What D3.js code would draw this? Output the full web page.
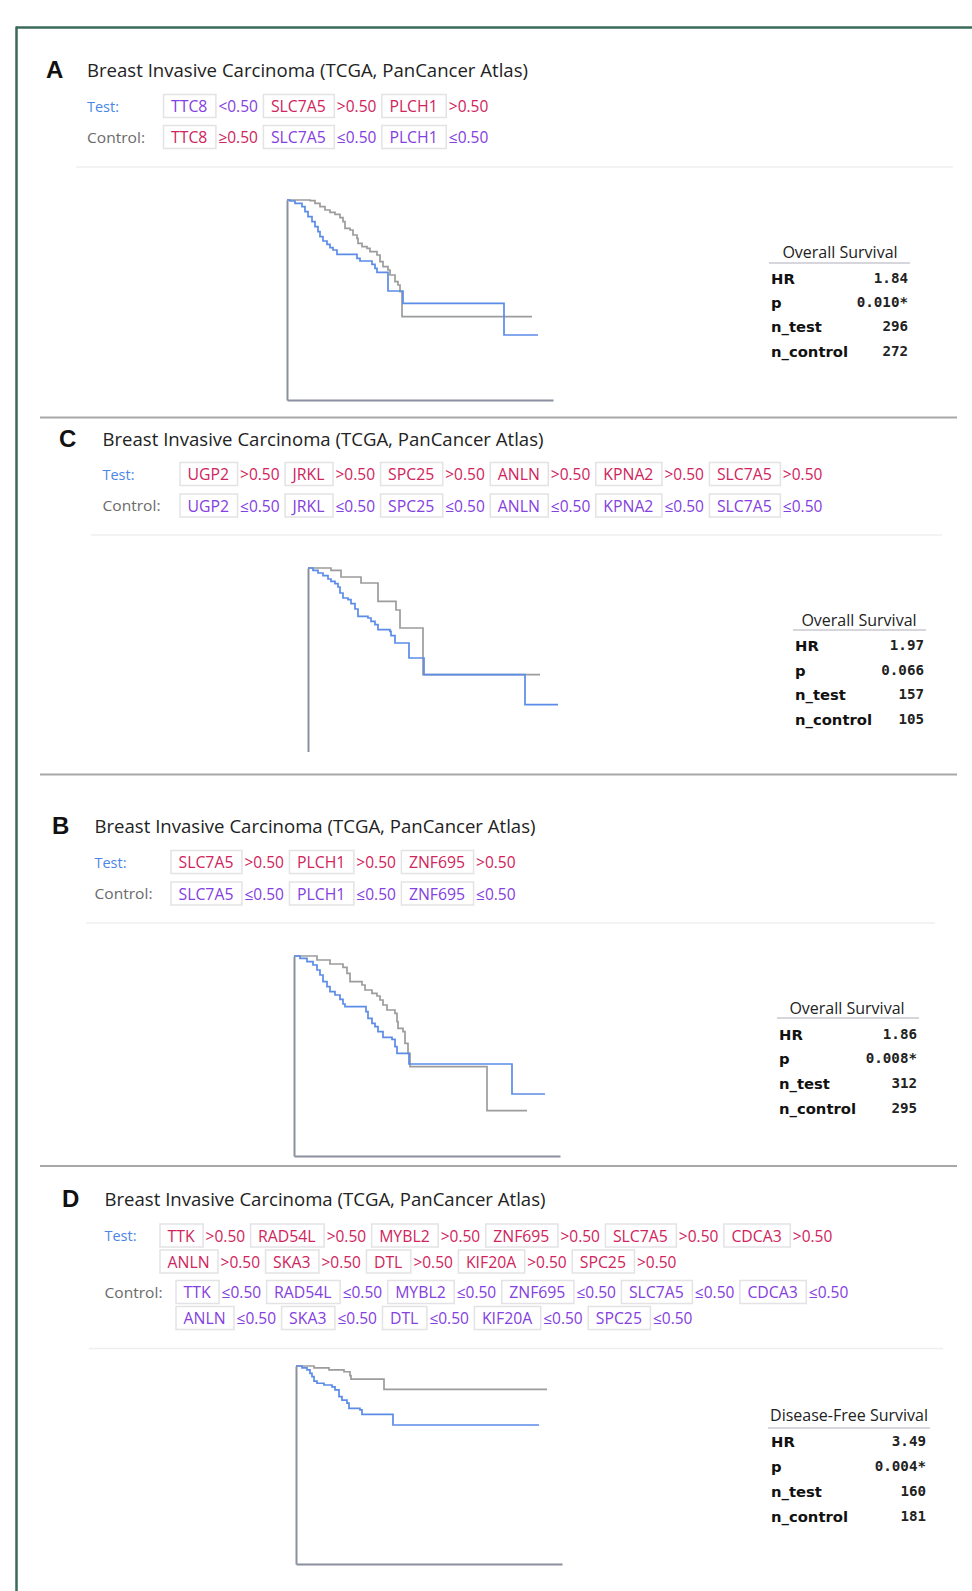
<!doctype html>
<html>
<head>
  <meta charset="utf-8">
  <script src="https://d3js.org/d3.v7.min.js"></script>
  <style>
    body { margin: 0; background: #fff; }
  </style>
</head>
<body>
<svg width="972" height="1591"></svg>
<script>
// ---- data ----
var genesA = ["TTC8", "SLC7A5", "PLCH1"];
var testOpsA = ["<", ">", ">"];
var ctrlOpsA = ["\u2265", "\u2264", "\u2264"];
var genesC = ["UGP2", "JRKL", "SPC25", "ANLN", "KPNA2", "SLC7A5"];
var genesB = ["SLC7A5", "PLCH1", "ZNF695"];
var genesD = ["TTK", "RAD54L", "MYBL2", "ZNF695", "SLC7A5", "CDCA3", "ANLN", "SKA3", "DTL", "KIF20A", "SPC25"];
var threshold = "0.50";

var statLabels = ["HR", "p", "n_test", "n_control"];
var statsA = ["1.84", "0.010*", "296", "272"];
var statsC = ["1.97", "0.066", "157", "105"];
var statsB = ["1.86", "0.008*", "312", "295"];
var statsD = ["3.49", "0.004*", "160", "181"];

// [months, survival]
var testCurveA = [[0,1],[3,0.995],[8,0.983],[15,0.967],[18,0.942],[21,0.917],[25,0.892],[28,0.867],[31,0.842],[33,0.817],[36,0.795],[40,0.778],[43,0.762],[46,0.75],[50,0.728],[70,0.708],[73,0.695],[85,0.678],[88,0.658],[90,0.638],[101,0.545],[116,0.483],[217,0.325],[251,0.325]];
var ctrlCurveA = [[0,1],[23,0.997],[28,0.983],[33,0.967],[38,0.95],[43,0.938],[48,0.928],[53,0.912],[56,0.892],[58,0.858],[63,0.85],[66,0.825],[70,0.808],[71,0.783],[75,0.767],[80,0.758],[83,0.742],[90,0.725],[93,0.692],[96,0.667],[101,0.65],[103,0.625],[108,0.592],[111,0.575],[113,0.542],[115,0.417],[245,0.417]];
var testCurveC = [[0,1],[5,0.988],[10,0.975],[15,0.962],[20,0.945],[23,0.933],[27,0.922],[30,0.905],[32,0.875],[35,0.85],[40,0.842],[43,0.822],[47,0.795],[50,0.758],[60,0.75],[63,0.733],[67,0.717],[70,0.692],[82,0.683],[83,0.662],[87,0.625],[101,0.55],[116,0.467],[217,0.317],[250,0.317]];
var ctrlCurveC = [[0,1],[23,0.988],[33,0.955],[53,0.925],[70,0.833],[88,0.79],[92,0.7],[115,0.467],[232,0.467]];
var testCurveB = [[0,1],[6,0.988],[13,0.972],[19,0.955],[23,0.93],[26,0.905],[29,0.872],[33,0.847],[36,0.822],[41,0.805],[46,0.783],[49,0.76],[51,0.747],[72,0.722],[74,0.688],[78,0.663],[81,0.647],[84,0.622],[89,0.593],[98,0.583],[101,0.547],[103,0.513],[115,0.46],[218,0.31],[251,0.31]];
var ctrlCurveB = [[0,1],[23,0.98],[36,0.96],[49,0.943],[53,0.913],[56,0.872],[68,0.855],[71,0.83],[78,0.813],[83,0.8],[86,0.78],[89,0.755],[93,0.73],[101,0.713],[103,0.672],[104,0.638],[109,0.622],[111,0.563],[114,0.513],[116,0.447],[193,0.227],[233,0.227]];
var testCurveD = [[0,1],[6,0.991],[11,0.98],[14,0.963],[16,0.946],[18,0.924],[21,0.913],[28,0.904],[36,0.895],[39,0.879],[43,0.845],[46,0.828],[51,0.812],[53,0.786],[64,0.778],[66,0.756],[97,0.702],[243,0.702]];
var ctrlCurveD = [[0,1],[18,0.991],[33,0.98],[48,0.971],[54,0.951],[55,0.934],[88,0.882],[251,0.882]];

// ---- layout ----
var hiColor = "#d0245c", loColor = "#8440e0";
var panels = [
  { id: "A", genes: genesA, testOps: testOpsA, ctrlOps: ctrlOpsA, stats: statsA, survival: "Overall Survival",
    testCurve: testCurveA, ctrlCurve: ctrlCurveA,
    letterX: 46, letterY: 69, textX: 87, titleY: 70, testY: [106], ctrlY: [137], testBox: 163, ctrlBox: 163, wrap: 99,
    lineY: 167, lineX: [76, 953],
    chart: { x0: 287, top: 200, bottom: 400, xAxis: true },
    st: { cx: 840, titleY: 252, ulY: 263, rows: [278, 302, 326, 351], lx: 771, vx: 908 } },
  { id: "C", genes: genesC, stats: statsC, survival: "Overall Survival",
    testCurve: testCurveC, ctrlCurve: ctrlCurveC,
    letterX: 59, letterY: 438, textX: 102.5, titleY: 439, testY: [474], ctrlY: [505.5], testBox: 179.5, ctrlBox: 179.5, wrap: 99,
    lineY: 535, lineX: [91, 942],
    chart: { x0: 308, top: 568, bottom: 768, xAxis: false, clip: 752 },
    st: { cx: 859, titleY: 620, ulY: 630, rows: [645, 670, 694, 719], lx: 795, vx: 924 } },
  { id: "B", genes: genesB, stats: statsB, survival: "Overall Survival",
    testCurve: testCurveB, ctrlCurve: ctrlCurveB,
    letterX: 52, letterY: 825, textX: 94.5, titleY: 826, testY: [862], ctrlY: [893.5], testBox: 170.5, ctrlBox: 170.5, wrap: 99,
    lineY: 923, lineX: [86, 935],
    chart: { x0: 294, top: 956, bottom: 1156, xAxis: true },
    st: { cx: 847, titleY: 1008, ulY: 1018, rows: [1034, 1058, 1083, 1108], lx: 779, vx: 917 } },
  { id: "D", genes: genesD, stats: statsD, survival: "Disease-Free Survival",
    testCurve: testCurveD, ctrlCurve: ctrlCurveD,
    letterX: 62, letterY: 1198, textX: 104.5, titleY: 1199, testY: [1235.5, 1261.5], ctrlY: [1292, 1318], testBox: 159.5, ctrlBox: 175.5, wrap: 6,
    lineY: 1348.5, lineX: [89, 943],
    chart: { x0: 296, top: 1366, bottom: 1564, xAxis: true },
    st: { cx: 849, titleY: 1415, ulY: 1428, rows: [1441, 1466, 1491, 1516], lx: 771, vx: 926 } }
];

var svg = d3.select("svg");
var font = "'Open Sans', 'Noto Sans', sans-serif";

// outer frame
svg.append("line").attr("x1", 16).attr("x2", 972).attr("y1", 27.5).attr("y2", 27.5)
  .attr("stroke", "#3a6a58").attr("stroke-width", 2.5);
svg.append("line").attr("x1", 16.5).attr("x2", 16.5).attr("y1", 26.5).attr("y2", 1591)
  .attr("stroke", "#3a6a58").attr("stroke-width", 2.5);

// panel separators
[417.5, 774.5, 1166].forEach(function(y) {
  svg.append("line").attr("x1", 40).attr("x2", 957).attr("y1", y).attr("y2", y)
    .attr("stroke", "#a8a8a8").attr("stroke-width", 2);
});

function geneRow(g, genes, ops, startX, wrap, rowYs) {
  var x = startX, line = 0;
  genes.forEach(function(gene, i) {
    if (i > 0 && i % wrap == 0) { line++; x = startX; }
    var yy = rowYs[line];
    var op = ops[i];
    var col = (op == ">" || op == "\u2265") ? hiColor : loColor;
    var t = g.append("text").attr("x", x + 8).attr("y", yy)
      .attr("dominant-baseline", "central")
      .attr("font-family", font).attr("font-size", 15.8).attr("fill", col).text(gene);
    var w = t.node().getComputedTextLength();
    g.insert("rect", "text").attr("x", x + 0.5).attr("y", yy - 11.5).attr("width", w + 16).attr("height", 23)
      .attr("fill", "#fff").attr("stroke", "#e3e3e6").attr("stroke-width", 1.5);
    x += w + 16 + 3;
    var t2 = g.append("text").attr("x", x).attr("y", yy)
      .attr("dominant-baseline", "central")
      .attr("font-family", font).attr("font-size", 15.5).attr("fill", col).text(op + threshold);
    x += t2.node().getComputedTextLength() + 5;
  });
}

panels.forEach(function(p) {
  var g = svg.append("g");
  var testOps = p.testOps || p.genes.map(function() { return ">"; });
  var ctrlOps = p.ctrlOps || p.genes.map(function() { return "\u2264"; });

  g.append("text").attr("x", p.letterX).attr("y", p.letterY).attr("dominant-baseline", "central")
    .attr("font-family", "'Liberation Sans', Arial, sans-serif").attr("font-weight", "bold")
    .attr("font-size", 24).attr("fill", "#111").text(p.id);
  g.append("text").attr("x", p.textX).attr("y", p.titleY).attr("dominant-baseline", "central")
    .attr("font-family", font).attr("font-size", 18.2).attr("fill", "#222")
    .attr("textLength", 441).attr("lengthAdjust", "spacingAndGlyphs")
    .text("Breast Invasive Carcinoma (TCGA, PanCancer Atlas)");

  g.append("text").attr("x", p.textX).attr("y", p.testY[0]).attr("dominant-baseline", "central")
    .attr("font-family", font).attr("font-size", 14.5).attr("fill", "#4a86e8")
    .attr("textLength", 32).attr("lengthAdjust", "spacingAndGlyphs").text("Test:");
  g.append("text").attr("x", p.textX).attr("y", p.ctrlY[0]).attr("dominant-baseline", "central")
    .attr("font-family", font).attr("font-size", 14.5).attr("fill", "#6b6b6b")
    .attr("textLength", 58).attr("lengthAdjust", "spacingAndGlyphs").text("Control:");

  geneRow(g, p.genes, testOps, p.testBox, p.wrap, p.testY);
  geneRow(g, p.genes, ctrlOps, p.ctrlBox, p.wrap, p.ctrlY);

  g.append("line").attr("x1", p.lineX[0]).attr("x2", p.lineX[1]).attr("y1", p.lineY).attr("y2", p.lineY)
    .attr("stroke", "#efefef").attr("stroke-width", 1.5);

  // KM chart
  var c = p.chart;
  var x = d3.scaleLinear().domain([0, 266]).range([c.x0, c.x0 + 266]);
  var y = d3.scaleLinear().domain([0, 1]).range([c.bottom, c.top]);
  var cg = g.append("g");
  if (c.clip) {
    svg.append("clipPath").attr("id", "clip" + p.id).append("rect")
      .attr("x", 0).attr("y", 0).attr("width", 972).attr("height", c.clip);
    cg.attr("clip-path", "url(#clip" + p.id + ")");
  }
  var line = d3.line().x(function(d) { return x(d[0]); }).y(function(d) { return y(d[1]); })
    .curve(d3.curveStepAfter);
  cg.append("path").datum(p.ctrlCurve).attr("d", line).attr("fill", "none")
    .attr("stroke", "#9c9c9c").attr("stroke-width", 1.7);
  cg.append("path").datum(p.testCurve).attr("d", line).attr("fill", "none")
    .attr("stroke", "#5b8ce8").attr("stroke-width", 1.7);

  var yAxis = d3.axisLeft(y).tickValues([]).tickSizeOuter(0);
  cg.append("g").attr("transform", "translate(" + c.x0 + ",0)").call(yAxis)
    .select(".domain").attr("stroke", "#8b909e").attr("stroke-width", 2);
  if (c.xAxis) {
    var xAxis = d3.axisBottom(x).tickValues([]).tickSizeOuter(0);
    cg.append("g").attr("transform", "translate(0," + c.bottom + ")").call(xAxis)
      .select(".domain").attr("stroke", "#8b909e").attr("stroke-width", 2);
  }

  // stats table
  var s = p.st;
  var tt = g.append("text").attr("x", s.cx).attr("y", s.titleY).attr("text-anchor", "middle")
    .attr("dominant-baseline", "central").attr("font-family", font).attr("font-size", 16)
    .attr("fill", "#222").text(p.survival);
  var tw = tt.node().getComputedTextLength();
  g.append("line").attr("x1", Math.min(s.lx, s.cx - tw / 2) - 2).attr("x2", Math.max(s.vx, s.cx + tw / 2) + 2)
    .attr("y1", s.ulY).attr("y2", s.ulY).attr("stroke", "#d6d6dc").attr("stroke-width", 2);
  statLabels.forEach(function(lab, i) {
    g.append("text").attr("x", s.lx).attr("y", s.rows[i]).attr("dominant-baseline", "central")
      .attr("font-family", "'DejaVu Sans', sans-serif").attr("font-weight", "bold").attr("font-size", 14.8)
      .attr("fill", "#111").text(lab);
    g.append("text").attr("x", s.vx).attr("y", s.rows[i]).attr("dominant-baseline", "central")
      .attr("text-anchor", "end")
      .attr("font-family", "'DejaVu Sans Mono', monospace").attr("font-weight", "bold").attr("font-size", 14.2)
      .attr("fill", "#222").text(p.stats[i]);
  });
});
</script>
</body>
</html>
